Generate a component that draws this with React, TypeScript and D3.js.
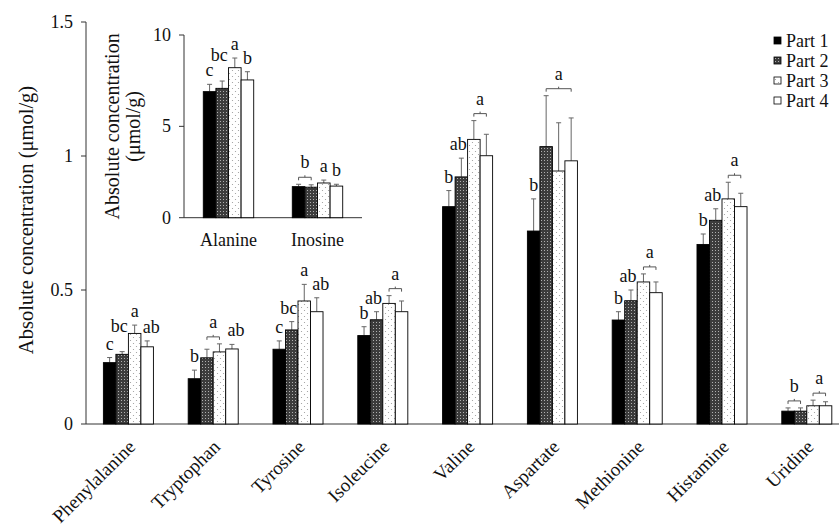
import React from 'react'
import * as d3 from 'd3'

// main chart data (umol/g)
const categories = ['Phenylalanine', 'Tryptophan', 'Tyrosine', 'Isoleucine', 'Valine', 'Aspartate', 'Methionine', 'Histamine', 'Uridine']
const parts = ['Part 1', 'Part 2', 'Part 3', 'Part 4']

const part1 = [0.229, 0.169, 0.279, 0.33, 0.811, 0.72, 0.388, 0.67, 0.048]
const part2 = [0.26, 0.247, 0.351, 0.389, 0.922, 1.035, 0.46, 0.76, 0.048]
const part3 = [0.338, 0.269, 0.459, 0.45, 1.062, 0.944, 0.53, 0.84, 0.068]
const part4 = [0.288, 0.28, 0.419, 0.419, 1.001, 0.982, 0.49, 0.811, 0.068]

const part1Err = [0.019, 0.032, 0.031, 0.033, 0.06, 0.12, 0.031, 0.039, 0.012]
const part2Err = [0.01, 0.032, 0.031, 0.03, 0.07, 0.19, 0.04, 0.043, 0.012]
const part3Err = [0.031, 0.03, 0.062, 0.029, 0.07, 0.18, 0.03, 0.062, 0.021]
const part4Err = [0.022, 0.017, 0.052, 0.04, 0.08, 0.16, 0.04, 0.05, 0.015]

// significance letters: [first bar, last bar, letter, extra raise]
const letters: [number, number, string, number?][][] = [
  [[0, 0, 'c'], [1, 1, 'bc', 12], [2, 2, 'a'], [3, 3, 'ab']],
  [[0, 0, 'b'], [1, 2, 'a'], [3, 3, 'ab']],
  [[0, 0, 'c'], [1, 1, 'bc'], [2, 2, 'a'], [3, 3, 'ab']],
  [[0, 0, 'b'], [1, 1, 'ab'], [2, 3, 'a']],
  [[0, 0, 'b'], [1, 1, 'ab'], [2, 3, 'a']],
  [[0, 0, 'b'], [1, 3, 'a']],
  [[0, 0, 'b'], [1, 1, 'ab'], [2, 3, 'a']],
  [[0, 0, 'b'], [1, 1, 'ab'], [2, 3, 'a']],
  [[0, 1, 'b'], [2, 3, 'a']],
]
const yTicks = [0, 0.5, 1, 1.5]

// inset data
const insetCategories = ['Alanine', 'Inosine']
const insetPart1 = [6.9, 1.7]
const insetPart2 = [7.08, 1.67]
const insetPart3 = [8.21, 1.9]
const insetPart4 = [7.54, 1.73]
const insetPart1Err = [0.4, 0.13]
const insetPart2Err = [0.4, 0.13]
const insetPart3Err = [0.53, 0.16]
const insetPart4Err = [0.45, 0.1]
const insetLetters: [number, number, string, number?][][] = [
  [[0, 0, 'c'], [1, 1, 'bc', 12], [2, 2, 'a'], [3, 3, 'b']],
  [[0, 1, 'b'], [2, 2, 'a'], [3, 3, 'b']],
]
const insetTicks = [0, 5, 10]

const FONT = 'Liberation Serif, DejaVu Serif, serif'
const fills = ['#000', 'url(#pat2)', 'url(#pat3)', '#fff']

function Groups({ cats, series, errs, marks, x0, x1, y }: any) {
  return (
    <g>
      {cats.map((c: string, gi: number) => {
        const gx = x0(c)
        const tops = parts.map((p, pi) => y(series[pi][gi] + errs[pi][gi]))
        return (
          <g key={c}>
            {parts.map((p, pi) => {
              const v = series[pi][gi]
              const bx = gx + x1(p)
              const cx = bx + x1.bandwidth() / 2
              return (
                <g key={p}>
                  <line x1={cx} x2={cx} y1={y(v)} y2={tops[pi]} stroke="#666" strokeWidth={1} />
                  <line x1={cx - 2.5} x2={cx + 2.5} y1={tops[pi]} y2={tops[pi]} stroke="#666" strokeWidth={1} />
                  <rect x={bx} y={y(v)} width={x1.bandwidth()} height={y(0) - y(v)}
                    fill={fills[pi]} stroke="#000" strokeWidth={0.9} />
                </g>
              )
            })}
            {marks[gi].map(([a, b, txt, raise]: any, k: number) => {
              const ca = gx + x1(parts[a]) + x1.bandwidth() / 2
              const cb = gx + x1(parts[b]) + x1.bandwidth() / 2
              const top = Math.min(...tops.slice(a, b + 1))
              if (a === b) {
                let dx = 0
                if (txt.length > 1 && a === parts.length - 1) dx = 4
                if (txt.length > 1 && a === 1) dx = -3
                return (
                  <text key={k} x={ca + dx} y={top - 8 - (raise || 0)} textAnchor="middle">{txt}</text>
                )
              }
              const by = top - 7
              const mid = (ca + cb) / 2
              return (
                <g key={k}>
                  <path d={`M${ca},${by + 3}V${by}H${cb}V${by + 3}M${mid},${by}V${by - 2}`} fill="none" stroke="#555" strokeWidth={1} />
                  <text x={mid} y={by - 9} textAnchor="middle">{txt}</text>
                </g>
              )
            })}
          </g>
        )
      })}
    </g>
  )
}

export default function App() {
  const W = 839
  const H = 527

  // main scales
  const y = d3.scaleLinear().domain([0, 1.5]).range([424, 22])
  const x0 = d3.scaleBand().domain(categories).range([86, 86 + 9 * 84.8])
  const x1 = d3.scaleBand().domain(parts).range([0, x0.bandwidth()]).paddingOuter(1.39)

  // inset scales
  const yi = d3.scaleLinear().domain([0, 10]).range([217.7, 35])
  const xi0 = d3.scaleBand().domain(insetCategories).range([184, 362])
  const xi1 = d3.scaleBand().domain(parts).range([0, xi0.bandwidth()]).paddingOuter(1.53)

  return (
    <svg width={W} height={H}
      style={{ position: 'absolute', left: 0, top: 0, background: '#fff', fontFamily: FONT, fontSize: 18 }}
      fill="#111">
      <defs>
        <pattern id="pat2" width={3} height={3} patternUnits="userSpaceOnUse">
          <rect width={3} height={3} fill="#3c3c3c" />
          <rect x={1} y={1} width={1} height={1} fill="#b0b0b0" />
        </pattern>
        <pattern id="pat3" width={6} height={6} patternUnits="userSpaceOnUse">
          <rect width={6} height={6} fill="#fff" />
          <circle cx={1.5} cy={1.5} r={0.6} fill="#999" />
          <circle cx={4.5} cy={4.5} r={0.6} fill="#999" />
        </pattern>
      </defs>

      {/* main axes */}
      <line x1={86} x2={W} y1={y(0)} y2={y(0)} stroke="#333" />
      <line x1={86} x2={86} y1={y(0)} y2={y(1.5)} stroke="#333" />
      {yTicks.map(t => (
        <g key={t}>
          <line x1={81} x2={86} y1={y(t)} y2={y(t)} stroke="#333" />
          <text x={73} y={y(t) + 6} textAnchor="end">{String(t)}</text>
        </g>
      ))}
      <text transform="translate(33,220) rotate(-90)" textAnchor="middle" fontSize={20.5}>
        Absolute concentration (μmol/g)
      </text>

      <Groups cats={categories} series={[part1, part2, part3, part4]}
        errs={[part1Err, part2Err, part3Err, part4Err]} marks={letters} x0={x0} x1={x1} y={y} />

      {categories.map(c => {
        const cx = x0(c)! + x0.bandwidth() / 2
        return (
          <text key={c} transform={`translate(${cx + 8},${448}) rotate(-45)`} textAnchor="end" fontSize={19}>{c}</text>
        )
      })}

      {/* inset */}
      <line x1={184} x2={362} y1={yi(0)} y2={yi(0)} stroke="#333" />
      <line x1={184} x2={184} y1={yi(0)} y2={yi(10)} stroke="#333" />
      {insetTicks.map(t => (
        <g key={t}>
          <line x1={179} x2={184} y1={yi(t)} y2={yi(t)} stroke="#333" />
          <text x={171} y={yi(t) + 6} textAnchor="end">{String(t)}</text>
        </g>
      ))}
      <text transform={`translate(119,${(yi(0) + yi(10)) / 2}) rotate(-90)`} textAnchor="middle" fontSize={20}>
        <tspan x={0} dy={0}>Absolute concentration</tspan>
        <tspan x={0} dy={21}>(μmol/g)</tspan>
      </text>
      <Groups cats={insetCategories} series={[insetPart1, insetPart2, insetPart3, insetPart4]}
        errs={[insetPart1Err, insetPart2Err, insetPart3Err, insetPart4Err]} marks={insetLetters}
        x0={xi0} x1={xi1} y={yi} />
      {insetCategories.map(c => (
        <text key={c} x={xi0(c)! + xi0.bandwidth() / 2} y={246} textAnchor="middle">{c}</text>
      ))}

      {/* legend */}
      {parts.map((p, i) => (
        <g key={p}>
          <rect x={774} y={37 + i * 20} width={7} height={7} fill={fills[i]} stroke="#000" strokeWidth={0.8} />
          <text x={786} y={47 + i * 20}>{p}</text>
        </g>
      ))}
    </svg>
  )
}
